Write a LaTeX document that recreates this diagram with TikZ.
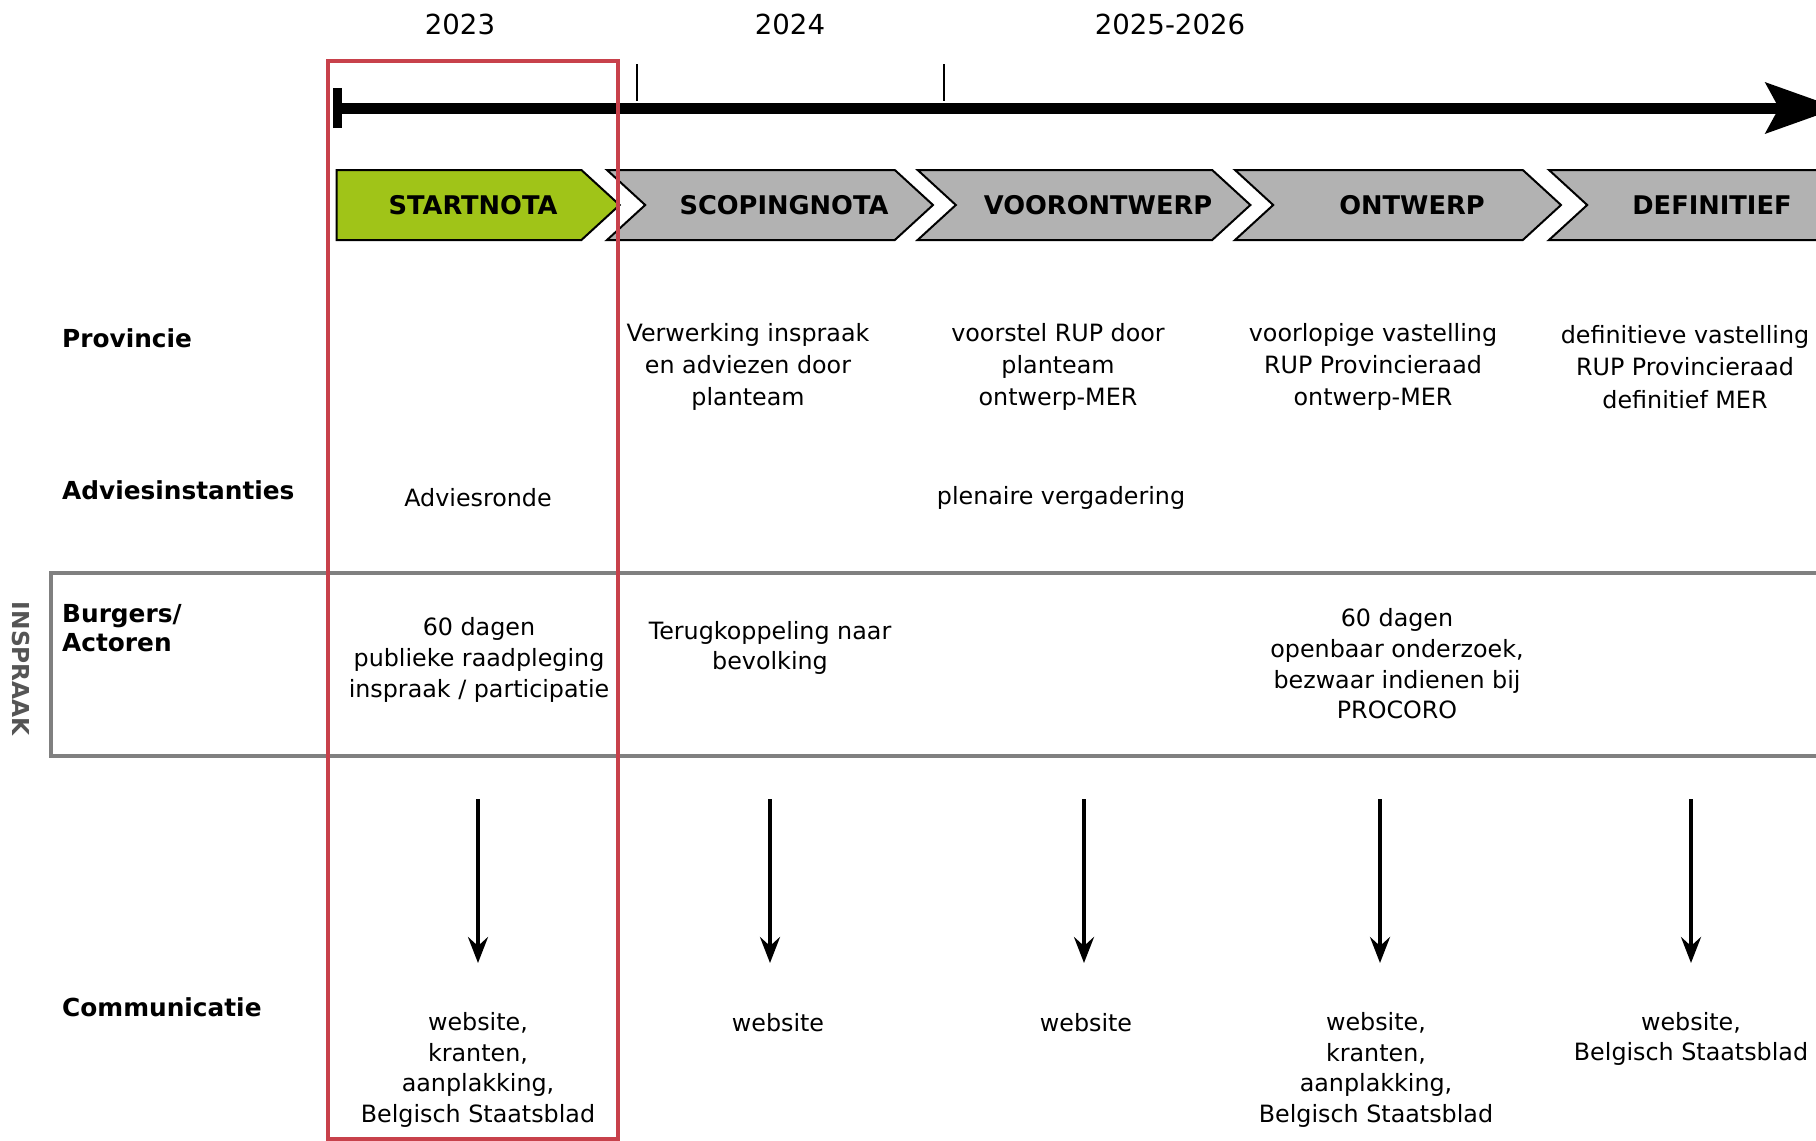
\documentclass[tikz,border=0pt]{standalone}
\usepackage{fontspec}
\setmainfont{DejaVu Sans}
\usepackage{tikz}
\usetikzlibrary{shapes.symbols,arrows.meta}
\definecolor{phasegreen}{RGB}{160,196,24}
\definecolor{phasegrey}{RGB}{178,178,178}
\definecolor{focusred}{RGB}{200,65,75}
\definecolor{inspraakgrey}{RGB}{128,128,128}
\definecolor{sidegrey}{RGB}{85,85,85}
\newcommand{\YEAR}[1]
{
    {\fontsize{27.6}{33}\selectfont #1}
}
\newcommand{\PHASE}[1]{\hspace*{28pt}#1}
\tikzset{
  phase/.style={
    signal,signal to=east,signal from=west,signal pointer angle=85,
    draw=black,line width=2pt,fill=phasegrey,
    minimum width=326pt,minimum height=70pt,inner sep=0pt,
    font=\bfseries\fontsize{25.7}{30}\selectfont,
  },
  rowlabel/.style={anchor=west,align=left,inner sep=0pt,
    font=\bfseries\fontsize{24.8}{29}\selectfont},
  cell/.style={align=center,inner sep=0pt,
    font=\fontsize{23.8}{30.7}\selectfont},
  widecell/.style={cell,font=\fontsize{23.8}{32.4}\selectfont},
  down/.style={line width=4pt,-{Stealth[length=26pt,width=20pt,inset=9pt]}},
  timeline/.style={line width=11pt,
    {Bar[width=40pt,line width=9pt]}-{Stealth[length=72pt,width=50pt,inset=13pt]}},
}

\begin{document}
\begin{tikzpicture}[x=1pt,y=-1pt]
        \useasboundingbox (0,0) rectangle (1816,1141);
        \clip (0,0) rectangle (1816,1141);

        % years and time axis
        \node (y2023) at (460,24) {\YEAR{2023}};
        \node (y2024) at (790,24) {\YEAR{2024}};
        \node (y2025) at (1170,24) {\YEAR{2025-2026}};
        \coordinate (t0) at (333,108);
        \coordinate (t1) at (1838,108);
        \draw[timeline] (t0) -- (t1);
        \draw[line width=2.5pt] (637,64) -- (637,101);
        \draw[line width=2.5pt] (944,64) -- (944,101);

        % phases
        \node[phase,signal from=nowhere,fill=phasegreen,minimum width=283pt]
            (start) at (459,205) {\PHASE{STARTNOTA}};
        \node[phase] (scoping) at (770,205) {\PHASE{SCOPINGNOTA}};
        \node[phase] (voor) at (1084,205) {\PHASE{VOORONTWERP}};
        \node[phase] (ontwerp) at (1398,205) {\PHASE{ONTWERP}};
        \node[phase] (definitief) at (1712,205) {DEFINITIEF};

        % rows
        \node[rowlabel] (provincie) at (62,338) {Provincie};
        \node[rowlabel] (advies) at (62,490) {Adviesinstanties};
        \node[rowlabel] (burgers) at (62,628) {Burgers/\\Actoren};
        \node[rowlabel] (communicatie) at (62,1007) {Communicatie};

        \draw[inspraakgrey,line width=4.5pt] (51,573) rectangle (1830,756);
        \node[rotate=-90,text=sidegrey,font=\bfseries\fontsize{23.3}{28}\selectfont]
            (inspraak) at (21,669) {INSPRAAK};

        \node[widecell] (prov2) at (748,367) {Verwerking inspraak\\en adviezen door\\planteam};
        \node[widecell] (prov3) at (1058,367) {voorstel RUP door\\planteam\\ontwerp-MER};
        \node[widecell] (prov4) at (1373,367) {voorlopige vastelling\\RUP Provincieraad\\ontwerp-MER};
        \node[widecell] (prov5) at (1685,367) {definitieve vastelling\\RUP Provincieraad\\definitief MER};

        \node[cell] (adv1) at (478,498) {Adviesronde};
        \node[cell] (adv3) at (1061,498) {plenaire vergadering};

        \node[cell] (bur1) at (479,660) {60 dagen\\publieke raadpleging\\inspraak / participatie};
        \node[cell] (bur2) at (770,648) {Terugkoppeling naar\\bevolking};
        \node[cell] (bur4) at (1397,664) {60 dagen\\openbaar onderzoek,\\bezwaar indienen bij\\PROCORO};

        % communication
        \foreach \x [count=\i] in {478,770,1084,1380,1691} {
            \coordinate (top\i) at (\x,799);
            \coordinate (tip\i) at (\x,963);
            \draw[down] (top\i) -- (tip\i);
        }
        \node[cell] (com1) at (478,1070) {website,\\kranten,\\aanplakking,\\Belgisch Staatsblad};
        \node[cell] (com2) at (778,1023) {website};
        \node[cell] (com3) at (1086,1023) {website};
        \node[cell] (com4) at (1376,1070) {website,\\kranten,\\aanplakking,\\Belgisch Staatsblad};
        \node[cell] (com5) at (1691,1039) {website,\\Belgisch Staatsblad};

        % current phase
        \draw[focusred,line width=4pt] (328,61) rectangle (618,1139);
    \end{tikzpicture}
\end{document}
